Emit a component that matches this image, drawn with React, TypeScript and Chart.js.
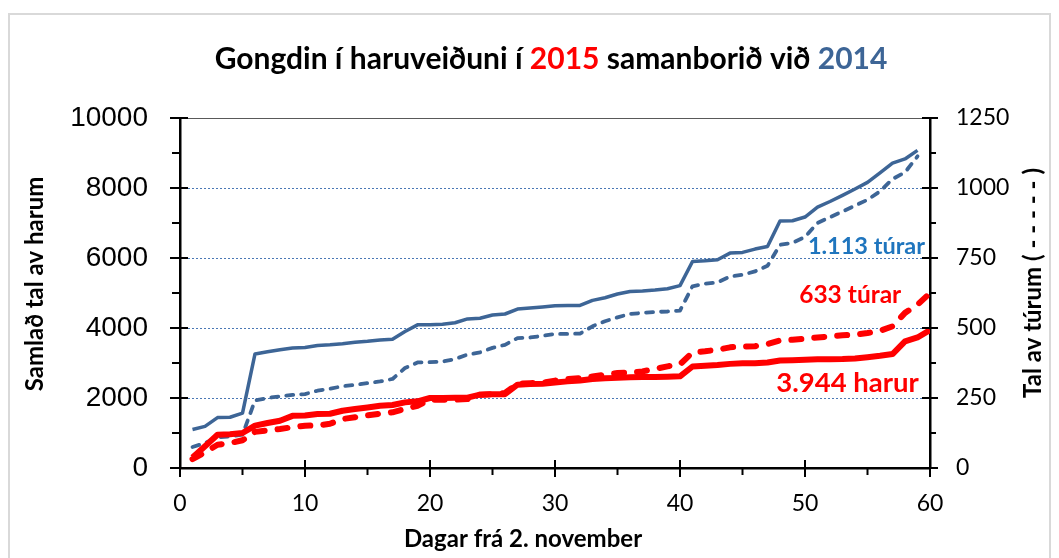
import React, { useEffect, useRef } from "react";
import { Chart, registerables } from "chart.js";

Chart.register(...registerables);

// ---------- data ----------
const days = [
  1, 2, 3, 4, 5, 6, 7, 8, 9, 10, 11, 12, 13, 14, 15, 16, 17, 18, 19, 20,
  21, 22, 23, 24, 25, 26, 27, 28, 29, 30, 31, 32, 33, 34, 35, 36, 37, 38, 39, 40,
  41, 42, 43, 44, 45, 46, 47, 48, 49, 50, 51, 52, 53, 54, 55, 56, 57, 58, 59, 60,
];

// 2014: days 1-59
const harur2014 = [
  1100, 1190, 1440, 1450, 1570, 3260, 3320, 3380, 3430, 3440,
  3500, 3520, 3550, 3590, 3620, 3660, 3680, 3900, 4090, 4095,
  4110, 4150, 4260, 4280, 4370, 4400, 4540, 4570, 4600, 4635,
  4640, 4645, 4790, 4865, 4970, 5045, 5060, 5085, 5120, 5210,
  5900, 5920, 5950, 6140, 6160, 6255, 6330, 7060, 7065, 7170,
  7455, 7615, 7790, 7970, 8160, 8430, 8710, 8830, 9075,
];
const turar2014 = [
  75, 89, 109, 113, 119, 241, 250, 256, 261, 264,
  276, 283, 292, 297, 303, 309, 318, 357, 377, 378,
  380, 389, 405, 413, 429, 440, 464, 466, 472, 479,
  479, 480, 506, 524, 538, 550, 554, 557, 559, 562,
  649, 658, 663, 684, 690, 702, 722, 797, 804, 825,
  875, 896, 916, 937, 958, 988, 1032, 1056, 1113,
];

// 2015: days 1-60
const harur2015 = [
  300, 620, 950, 965, 1000, 1210, 1285, 1350, 1490, 1500,
  1540, 1550, 1635, 1685, 1730, 1780, 1800, 1875, 1905, 2000,
  2000, 2005, 2010, 2095, 2110, 2110, 2380, 2400, 2410, 2445,
  2475, 2500, 2540, 2565, 2575, 2590, 2600, 2600, 2610, 2620,
  2900, 2920, 2940, 2975, 2990, 2995, 3015, 3070, 3080, 3095,
  3105, 3110, 3115, 3130, 3165, 3205, 3255, 3620, 3730, 3944,
];
const turar2015 = [
  32, 56, 83, 89, 99, 129, 134, 139, 146, 151,
  152, 158, 175, 181, 188, 194, 199, 211, 222, 244,
  244, 244, 246, 262, 264, 268, 301, 303, 305, 312,
  318, 321, 327, 333, 339, 341, 345, 354, 363, 370,
  413, 417, 422, 431, 434, 435, 443, 456, 458, 462,
  466, 470, 474, 476, 482, 490, 506, 554, 583, 625,
];

const xTicks = [0, 10, 20, 30, 40, 50, 60];
const leftTicks = [0, 2000, 4000, 6000, 8000, 10000];
const rightTicks = [0, 250, 500, 750, 1000, 1250];

const titleParts = [
  { text: "Gongdin í haruveiðuni í ", color: "#000000" },
  { text: "2015", color: "#ff0000" },
  { text: " samanborið við ", color: "#000000" },
  { text: "2014", color: "#3d6596" },
];
const xTitle = "Dagar frá 2. november";
const leftTitle = "Samlað tal av harum";
const rightTitle = "Tal av túrum ( - - - - - )";
const noteTurar2014 = "1.113 túrar";
const noteTurar2015 = "633 túrar";
const noteHarur2015 = "3.944 harur";

const BLUE = "#3d6596";
const RED = "#ff0000";

const pts = (xs: number[], ys: number[]) => ys.map((y, i) => ({ x: xs[i], y }));

const midpoints = (arr: number[]) => arr.slice(1).map((v, i) => (v + arr[i]) / 2);

const plain = (v: any) => String(v);

const decor = {
  id: "decor",
  beforeDraw(chart: any) {
    const ctx = chart.ctx;
    ctx.save();
    ctx.fillStyle = "#ffffff";
    ctx.fillRect(0, 0, chart.width, chart.height);
    ctx.strokeStyle = "#d9d9d9";
    ctx.lineWidth = 2;
    ctx.strokeRect(9, 14, 1041, 570);
    ctx.restore();
  },
  beforeDatasetsDraw(chart: any) {
    const { ctx, chartArea: a, scales } = chart;
    ctx.save();
    ctx.strokeStyle = "#4a78b5";
    ctx.lineWidth = 1;
    ctx.setLineDash([2, 2]);
    leftTicks.forEach((v) => {
      if (v === leftTicks[0] || v === leftTicks[leftTicks.length - 1]) return;
      const y = Math.round(scales.y.getPixelForValue(v)) + 0.5;
      ctx.beginPath();
      ctx.moveTo(a.left, y);
      ctx.lineTo(a.right, y);
      ctx.stroke();
    });
    ctx.setLineDash([]);
    ctx.strokeStyle = "#595959";
    ctx.lineWidth = 1;
    const yt = Math.round(a.top) + 0.5;
    ctx.beginPath();
    ctx.moveTo(a.left, yt);
    ctx.lineTo(a.right, yt);
    ctx.stroke();
    ctx.restore();
  },
  afterDraw(chart: any) {
    const { ctx, chartArea: a, scales } = chart;
    const xs = scales.x;
    const yl = scales.y;
    const yr = scales.y1;
    ctx.save();
    ctx.strokeStyle = "#000";
    ctx.lineWidth = 2;
    const seg = (x1: number, y1: number, x2: number, y2: number) => {
      ctx.beginPath();
      ctx.moveTo(x1, y1);
      ctx.lineTo(x2, y2);
      ctx.stroke();
    };
    // x ticks
    xTicks.forEach((v) => {
      const p = xs.getPixelForValue(v);
      seg(p, a.bottom - 8, p, a.bottom + 9);
    });
    midpoints(xTicks).forEach((v) => {
      const p = xs.getPixelForValue(v);
      seg(p, a.bottom, p, a.bottom + 7);
    });
    // left ticks
    leftTicks.forEach((v) => {
      const p = yl.getPixelForValue(v);
      seg(a.left - 10, p, a.left + 8, p);
    });
    midpoints(leftTicks).forEach((v) => {
      const p = yl.getPixelForValue(v);
      seg(a.left - 8, p, a.left, p);
    });
    // right ticks
    rightTicks.forEach((v) => {
      const p = yr.getPixelForValue(v);
      seg(a.right - 8, p, a.right + 8, p);
    });
    midpoints(rightTicks).forEach((v) => {
      const p = yr.getPixelForValue(v);
      seg(a.right, p, a.right + 6, p);
    });

    // title
    ctx.font = "bold 30px Lato";
    ctx.textBaseline = "middle";
    ctx.textAlign = "left";
    const total = titleParts.reduce((s, p) => s + ctx.measureText(p.text).width, 0);
    let tx = 551 - total / 2;
    titleParts.forEach((p) => {
      ctx.fillStyle = p.color;
      ctx.fillText(p.text, tx, 59);
      tx += ctx.measureText(p.text).width;
    });

    // axis titles
    ctx.fillStyle = "#000";
    ctx.font = "bold 24px Lato";
    ctx.textAlign = "center";
    ctx.fillText(xTitle, 523, 539);
    ctx.save();
    ctx.translate(35, 284);
    ctx.rotate(-Math.PI / 2);
    ctx.fillText(leftTitle, 0, 0);
    ctx.restore();
    ctx.save();
    ctx.translate(1033, 283);
    ctx.rotate(-Math.PI / 2);
    ctx.fillText(rightTitle, 0, 0);
    ctx.restore();

    // annotations
    ctx.textAlign = "right";
    ctx.font = "bold 23.5px Lato";
    ctx.fillStyle = "#1f75be";
    ctx.fillText(noteTurar2014, xs.getPixelForValue(59.6), yl.getPixelForValue(6330));
    ctx.fillStyle = RED;
    ctx.font = "bold 24.5px Lato";
    ctx.fillText(noteTurar2015, xs.getPixelForValue(57.7), yl.getPixelForValue(4950));
    ctx.font = "bold 27.5px Lato";
    ctx.fillText(noteHarur2015, xs.getPixelForValue(59.1), yl.getPixelForValue(2430));
    ctx.restore();
  },
};

export default function App() {
  const ref = useRef<HTMLCanvasElement | null>(null);
  useEffect(() => {
    if (!ref.current) return;
    const chart = new Chart(ref.current, {
      type: "line",
      data: {
        datasets: [
          {
            label: "2015 harur",
            data: pts(days, harur2015),
            borderColor: RED,
            borderWidth: 6,
            yAxisID: "y",
            order: 0,
          },
          {
            label: "2015 túrar",
            data: pts(days, turar2015),
            borderColor: RED,
            borderWidth: 6,
            borderDash: [10, 13],
            borderCapStyle: "round",
            yAxisID: "y1",
            order: 1,
          },
          {
            label: "2014 harur",
            data: pts(days, harur2014),
            borderColor: BLUE,
            borderWidth: 3.5,
            yAxisID: "y",
            order: 2,
          },
          {
            label: "2014 túrar",
            data: pts(days, turar2014),
            borderColor: BLUE,
            borderWidth: 3.8,
            borderDash: [7, 8],
            borderCapStyle: "round",
            yAxisID: "y1",
            order: 3,
          },
        ] as any,
      },
      options: {
        animation: false,
        responsive: false,
        events: [],
        elements: {
          point: { radius: 0 },
          line: { tension: 0, borderJoinStyle: "round", fill: false },
        },
        layout: { padding: { top: 118, left: 0, right: 0, bottom: 0 } },
        plugins: {
          legend: { display: false },
          tooltip: { enabled: false },
          title: { display: false },
        },
        scales: {
          x: {
            type: "linear",
            min: 0,
            max: 60,
            afterBuildTicks: (s: any) => {
              s.ticks = xTicks.map((v) => ({ value: v }));
            },
            ticks: {
              color: "#000",
              font: { family: "Lato", size: 23 },
              padding: 22,
              maxRotation: 0,
              callback: plain,
            },
            grid: { display: false, drawTicks: false },
            border: { display: true, color: "#000", width: 2.5 },
            afterFit: (s: any) => {
              s.height = 90;
            },
          },
          y: {
            type: "linear",
            position: "left",
            min: 0,
            max: 10000,
            afterBuildTicks: (s: any) => {
              s.ticks = leftTicks.map((v) => ({ value: v }));
            },
            ticks: {
              color: "#000",
              font: { family: "Liberation Sans", size: 28 },
              padding: 32,
              callback: plain,
            },
            grid: { display: false, drawTicks: false },
            border: { display: true, color: "#000", width: 2.5 },
            afterFit: (s: any) => {
              s.width = 180;
            },
          },
          y1: {
            type: "linear",
            position: "right",
            min: 0,
            max: 1250,
            afterBuildTicks: (s: any) => {
              s.ticks = rightTicks.map((v) => ({ value: v }));
            },
            ticks: {
              color: "#000",
              font: { family: "Lato", size: 23 },
              padding: 26,
              callback: plain,
            },
            grid: { display: false, drawTicks: false },
            border: { display: true, color: "#000", width: 2.5 },
            afterFit: (s: any) => {
              s.width = 129;
            },
          },
        },
      } as any,
      plugins: [decor],
    });
    return () => chart.destroy();
  }, []);
  return (
    <div style={{ position: "absolute", left: 0, top: 0, width: 1059, height: 558, background: "#fff" }}>
      <canvas ref={ref} width={1059} height={558} style={{ display: "block" }} />
    </div>
  );
}
